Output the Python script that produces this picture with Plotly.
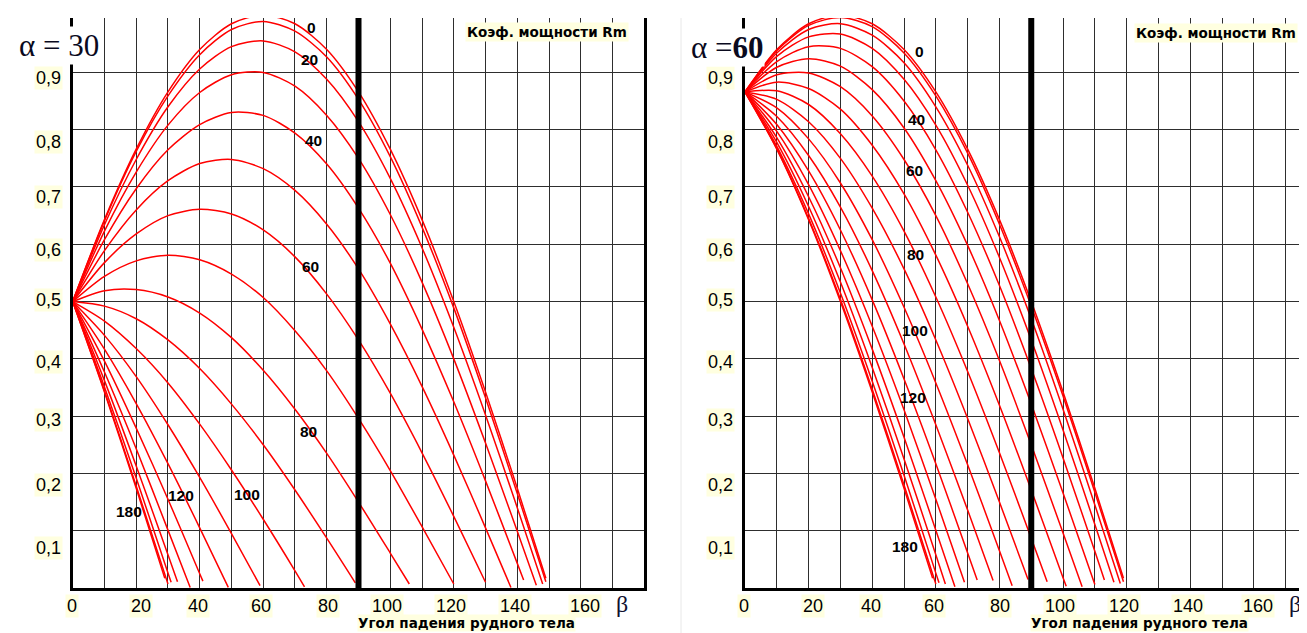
import plotly.graph_objects as go

# ---------------- DATA ----------------
# Curve parameter (labels 0 ... 180)
gamma = [0, 10, 20, 30, 40, 50, 60, 70, 80, 90, 100, 110, 120, 130, 140, 150, 160, 170, 180]

# Panel alpha = 30 : Rm at beta = 0,10,20,... and the last value at the curve end (end30)
a30_g0 = [0.5, 0.643, 0.766, 0.866, 0.940, 0.985, 1.0, 0.985, 0.940, 0.866, 0.766, 0.643, 0.5, 0.342, 0.174, 0.017]
a30_g10 = [0.5, 0.641, 0.762, 0.859, 0.931, 0.975, 0.989, 0.972, 0.927, 0.853, 0.753, 0.630, 0.489, 0.332, 0.165, 0.011]
a30_g20 = [0.5, 0.634, 0.748, 0.840, 0.906, 0.945, 0.955, 0.936, 0.888, 0.814, 0.715, 0.594, 0.455, 0.302, 0.140, 0.007]
a30_g30 = [0.5, 0.623, 0.726, 0.808, 0.865, 0.896, 0.900, 0.876, 0.825, 0.750, 0.652, 0.534, 0.400, 0.253, 0.099, 0.005]
a30_g40 = [0.5, 0.608, 0.697, 0.765, 0.809, 0.830, 0.825, 0.794, 0.740, 0.663, 0.567, 0.452, 0.325, 0.187, 0.043, 0.014]
a30_g50 = [0.5, 0.589, 0.660, 0.711, 0.741, 0.748, 0.732, 0.694, 0.635, 0.557, 0.461, 0.352, 0.232, 0.105, 0.001]
a30_g60 = [0.5, 0.568, 0.618, 0.650, 0.661, 0.653, 0.625, 0.578, 0.513, 0.433, 0.340, 0.236, 0.125, 0.010]
a30_g70 = [0.5, 0.544, 0.571, 0.581, 0.573, 0.548, 0.507, 0.449, 0.379, 0.296, 0.205, 0.107, 0.007]
a30_g80 = [0.5, 0.519, 0.521, 0.508, 0.480, 0.437, 0.380, 0.312, 0.235, 0.150, 0.061, 0.007]
a30_g90 = [0.5, 0.492, 0.470, 0.433, 0.383, 0.321, 0.250, 0.171, 0.087, 0.009]
a30_g100 = [0.5, 0.466, 0.418, 0.358, 0.286, 0.206, 0.120, 0.030, 0.002]
a30_g110 = [0.5, 0.441, 0.369, 0.285, 0.193, 0.095, 0.004]
a30_g120 = [0.5, 0.417, 0.322, 0.217, 0.105, 0.001]
a30_g130 = [0.5, 0.396, 0.279, 0.155, 0.025, 0.012]
a30_g140 = [0.5, 0.377, 0.243, 0.101, 0.001]
a30_g150 = [0.5, 0.362, 0.213, 0.058, 0.011]
a30_g160 = [0.5, 0.351, 0.192, 0.026, 0.010]
a30_g170 = [0.5, 0.344, 0.178, 0.007]
a30_g180 = [0.5, 0.342, 0.174, 0.017]
end30 = [149, 149, 148, 146, 142, 138, 130, 120, 106, 89, 73, 59, 49, 41, 37, 33, 31, 30, 29]

# Panel alpha = 60
a60_g0 = [0.866, 0.940, 0.985, 1.0, 0.985, 0.940, 0.866, 0.766, 0.643, 0.5, 0.342, 0.174, 0.017]
a60_g10 = [0.866, 0.938, 0.982, 0.996, 0.980, 0.934, 0.859, 0.759, 0.635, 0.492, 0.335, 0.167, 0.011]
a60_g20 = [0.866, 0.934, 0.975, 0.985, 0.965, 0.917, 0.840, 0.738, 0.613, 0.470, 0.312, 0.145, 0.008]
a60_g30 = [0.866, 0.928, 0.962, 0.967, 0.942, 0.888, 0.808, 0.703, 0.577, 0.433, 0.276, 0.111, 0.010]
a60_g40 = [0.866, 0.919, 0.945, 0.942, 0.910, 0.850, 0.765, 0.656, 0.528, 0.383, 0.227, 0.064, 0.014]
a60_g50 = [0.866, 0.909, 0.924, 0.911, 0.870, 0.803, 0.711, 0.598, 0.467, 0.321, 0.166, 0.006]
a60_g60 = [0.866, 0.896, 0.899, 0.875, 0.824, 0.748, 0.650, 0.531, 0.397, 0.250, 0.096, 0.002]
a60_g70 = [0.866, 0.883, 0.872, 0.836, 0.773, 0.688, 0.581, 0.457, 0.319, 0.171, 0.018, 0.003]
a60_g80 = [0.866, 0.868, 0.844, 0.793, 0.719, 0.623, 0.508, 0.378, 0.236, 0.087, 0.011]
a60_g90 = [0.866, 0.853, 0.814, 0.750, 0.663, 0.557, 0.433, 0.296, 0.150, 0.015]
a60_g100 = [0.866, 0.838, 0.784, 0.707, 0.608, 0.490, 0.358, 0.215, 0.065, 0.004]
a60_g110 = [0.866, 0.823, 0.755, 0.665, 0.554, 0.426, 0.285, 0.136, 0.013]
a60_g120 = [0.866, 0.809, 0.728, 0.625, 0.503, 0.365, 0.217, 0.061, 0.014]
a60_g130 = [0.866, 0.797, 0.704, 0.589, 0.457, 0.311, 0.155, 0.010]
a60_g140 = [0.866, 0.786, 0.683, 0.559, 0.417, 0.263, 0.101, 0.002]
a60_g150 = [0.866, 0.778, 0.666, 0.534, 0.385, 0.225, 0.058, 0.007]
a60_g160 = [0.866, 0.771, 0.653, 0.515, 0.361, 0.197, 0.026, 0.009]
a60_g170 = [0.866, 0.767, 0.645, 0.504, 0.347, 0.180, 0.007]
a60_g180 = [0.866, 0.766, 0.643, 0.500, 0.342, 0.174, 0.017]
end60 = [119, 119, 118, 116, 113, 110, 106, 101, 95, 89, 84, 78, 73, 69, 66, 63, 61, 60, 59]

# Curve labels (text, beta, Rm)
lab30_text = ["0", "20", "40", "60", "80", "100", "120", "180"]
lab30_x = [75.2, 74.7, 75.7, 74.9, 74.4, 54.8, 34.0, 17.8]
lab30_y = [0.978, 0.922, 0.782, 0.561, 0.273, 0.164, 0.162, 0.133]
lab60_text = ["0", "40", "60", "80", "100", "120", "180"]
lab60_x = [54.8, 54.0, 53.3, 53.5, 53.5, 52.9, 50.3]
lab60_y = [0.936, 0.817, 0.728, 0.583, 0.449, 0.333, 0.072]

# Tick labels
xtick_vals = [0, 20, 40, 60, 80, 100, 120, 140, 160]
ytick_vals = [0.9, 0.8, 0.7, 0.6, 0.5, 0.4, 0.3, 0.2, 0.1]
ytick_text = ["0,9", "0,8", "0,7", "0,6", "0,5", "0,4", "0,3", "0,2", "0,1"]

series30 = [a30_g0, a30_g10, a30_g20, a30_g30, a30_g40, a30_g50, a30_g60, a30_g70, a30_g80, a30_g90,
            a30_g100, a30_g110, a30_g120, a30_g130, a30_g140, a30_g150, a30_g160, a30_g170, a30_g180]
series60 = [a60_g0, a60_g10, a60_g20, a60_g30, a60_g40, a60_g50, a60_g60, a60_g70, a60_g80, a60_g90,
            a60_g100, a60_g110, a60_g120, a60_g130, a60_g140, a60_g150, a60_g160, a60_g170, a60_g180]

# ---------------- FIGURE ----------------
# The page body has an 8px margin, so the figure is 8px smaller and all pixel
# positions (measured in the 1307x633 window) are converted with that offset.
OFF = 8
W, H = 1307 - OFF, 633 - OFF
fig = go.Figure()

RED = dict(color="#ff0000", width=1.5, shape="spline", smoothing=0.8)


def betas(vals, end):
    return [10 * k for k in range(len(vals) - 1)] + [end]


for g, vals, end in zip(gamma, series30, end30):
    fig.add_trace(go.Scatter(x=betas(vals, end), y=vals, mode="lines", line=RED,
                             xaxis="x", yaxis="y", showlegend=False, hoverinfo="skip",
                             name=str(g)))
for g, vals, end in zip(gamma, series60, end60):
    fig.add_trace(go.Scatter(x=betas(vals, end), y=vals, mode="lines", line=RED,
                             xaxis="x2", yaxis="y2", showlegend=False, hoverinfo="skip",
                             name=str(g)))


def px_x(p):
    return (p - OFF) / W


def px_y(p):
    return 1 - (p - OFF) / H


ydom = [px_y(588), px_y(18)]
grid = "#2e2e2e"
common_x = dict(dtick=10, tick0=0, showgrid=True, gridcolor=grid, gridwidth=1,
                showline=True, linecolor="black", linewidth=3, showticklabels=False,
                ticks="", zeroline=False, fixedrange=True)
common_y = dict(domain=ydom, range=[0, 0.995], dtick=0.1, tick0=0, showgrid=True,
                gridcolor=grid, gridwidth=1, showline=True, linecolor="black", linewidth=3,
                showticklabels=False, ticks="", zeroline=False, fixedrange=True)

fig.update_layout(
    width=W, height=H, autosize=False,
    margin=dict(l=0, r=0, t=0, b=0),
    paper_bgcolor="white", plot_bgcolor="white",
    xaxis=dict(domain=[px_x(72.7), px_x(644.3)], range=[0, 180], anchor="y", **common_x),
    yaxis=dict(anchor="x", mirror=True, **common_y),
    xaxis2=dict(domain=[px_x(745), 1.0], range=[0, 176.7], anchor="y2", **common_x),
    yaxis2=dict(anchor="x2", mirror=False, **common_y),
)

shapes = []
# thick vertical line at beta = 90
for xr, yr in (("x", "y"), ("x2", "y2")):
    shapes.append(dict(type="line", xref=xr, yref=yr, x0=90, x1=90, y0=0, y1=0.995,
                       line=dict(color="black", width=6), layer="above"))
# faint screenshot border
for xp in (681,):
    shapes.append(dict(type="line", xref="paper", yref="paper", x0=px_x(xp), x1=px_x(xp),
                       y0=0, y1=px_y(18), line=dict(color="#e8e8e8", width=1), layer="below"))
fig.update_layout(shapes=shapes)

ann = []
LBG = "#ffffe0"
SANS = "Liberation Sans, Arial, sans-serif"
WIDE = "DejaVu Sans, Verdana, sans-serif"
SERIF = "Liberation Serif, Times New Roman, serif"

# y tick labels (with their individual offsets from the grid lines)
yshift_px = [-6, -12, -10, -6, 2, -3.5, -4, -12, -17]
for xr_px, yr in ((48, "y"), (720, "y2")):
    for v, t, s in zip(ytick_vals, ytick_text, yshift_px):
        ann.append(dict(xref="paper", yref=yr, x=px_x(xr_px), y=v, yshift=s, text=t,
                        showarrow=False, xanchor="center", yanchor="middle",
                        font=dict(family=SANS, size=18, color="black"),
                        bgcolor=LBG, borderpad=1))

# x tick labels
xshift_px = [-1, 4.5, -1.5, -2, 1, -3, -3, -2.5, 4]
for xr in ("x", "x2"):
    for v, s in zip(xtick_vals, xshift_px):
        ann.append(dict(xref=xr, yref="paper", x=v, y=px_y(605.7), xshift=s, text=str(v),
                        showarrow=False, xanchor="center", yanchor="middle",
                        font=dict(family=SANS, size=18, color="black"),
                        bgcolor=LBG, borderpad=1))
    ann.append(dict(xref=xr, yref="paper", x=173, y=px_y(604), text="β", showarrow=False,
                    xanchor="center", yanchor="middle",
                    font=dict(family=SERIF, size=24, color="#101030")))

# axis captions
for cx in (466, 1139):
    ann.append(dict(xref="paper", yref="paper", x=px_x(cx), y=px_y(623),
                    text="<b>Угол падения рудного тела</b>", showarrow=False,
                    xanchor="center", yanchor="middle",
                    font=dict(family=WIDE, size=13.5, color="black"), bgcolor=LBG, borderpad=0))
for cx, cy in ((546.5, 32), (1216, 33)):
    ann.append(dict(xref="paper", yref="paper", x=px_x(cx), y=px_y(cy),
                    text="<b>Коэф. мощности Rm</b>", showarrow=False,
                    xanchor="center", yanchor="middle",
                    font=dict(family=WIDE, size=13.5, color="black"), bgcolor=LBG, borderpad=1))

# alpha titles
ann.append(dict(xref="paper", yref="paper", x=px_x(58.5), y=px_y(45), text="α = 30",
                showarrow=False, xanchor="center", yanchor="middle",
                font=dict(family=SERIF, size=31, color="#0a0a1e"), bgcolor="white", borderpad=1))
ann.append(dict(xref="paper", yref="paper", x=px_x(727), y=px_y(47), text="α =<b>60</b>",
                showarrow=False, xanchor="center", yanchor="middle",
                font=dict(family=SERIF, size=31, color="#0a0a1e"), bgcolor="white", borderpad=1))

# curve labels
for xr, yr, texts, xs, ys in (("x", "y", lab30_text, lab30_x, lab30_y),
                              ("x2", "y2", lab60_text, lab60_x, lab60_y)):
    for t, x, y in zip(texts, xs, ys):
        ann.append(dict(xref=xr, yref=yr, x=x, y=y, text="<b>" + t + "</b>", showarrow=False,
                        xanchor="center", yanchor="middle",
                        font=dict(family=SANS, size=15.5, color="black")))

fig.update_layout(annotations=ann)

fig.write_html("out.html")
